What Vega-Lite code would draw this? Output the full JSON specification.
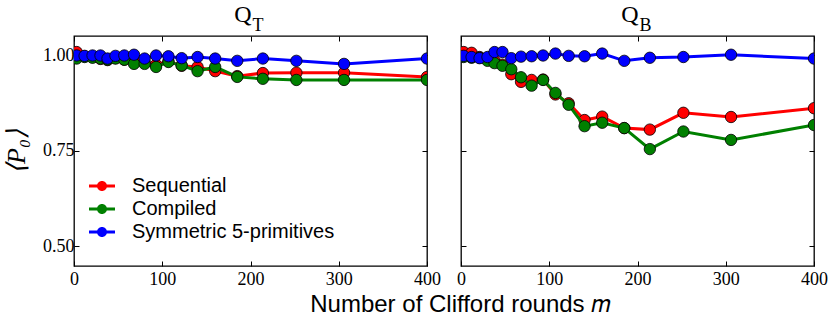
{
  "$schema": "https://vega.github.io/schema/vega-lite/v6.json",
  "padding": {"left": 2, "top": 2, "right": 4, "bottom": 4},
  "background": "white",
  "bounds": "flush",
  "title": {"text": "Number of Clifford rounds 𝑚", "orient": "bottom", "anchor": "middle", "font": "Liberation Sans", "fontSize": 24, "fontWeight": "normal", "color": "black", "dx": 45, "offset": 4},
  "spacing": 34,
  "resolve": {"legend": {"color": "independent"}, "scale": {"color": "independent"}},
  "config": {
    "view": {"stroke": "black", "strokeWidth": 1.3},
    "axis": {"grid": false, "domain": false, "tickColor": "black", "tickSize": -5, "tickWidth": 1, "labelFont": "Liberation Serif", "labelFontSize": 18, "labelFontWeight": "normal", "labelColor": "black", "labelFlush": false, "labelOverlap": false, "minExtent": 0},
    "legend": {"labelFont": "Liberation Sans", "labelFontSize": 20, "labelColor": "black", "labelLimit": 0}
  },
  "datasets": {
    "pts": [
      {"panel":"QT","series":"Sequential","m":3,"p":1.008},{"panel":"QT","series":"Sequential","m":12,"p":0.997},{"panel":"QT","series":"Sequential","m":21,"p":0.995},{"panel":"QT","series":"Sequential","m":30,"p":0.990},{"panel":"QT","series":"Sequential","m":38,"p":0.987},{"panel":"QT","series":"Sequential","m":47,"p":0.992},{"panel":"QT","series":"Sequential","m":57,"p":0.988},{"panel":"QT","series":"Sequential","m":68,"p":0.985},{"panel":"QT","series":"Sequential","m":80,"p":0.982},{"panel":"QT","series":"Sequential","m":93,"p":0.975},{"panel":"QT","series":"Sequential","m":107,"p":0.984},{"panel":"QT","series":"Sequential","m":122,"p":0.972},{"panel":"QT","series":"Sequential","m":140,"p":0.969},{"panel":"QT","series":"Sequential","m":160,"p":0.958},{"panel":"QT","series":"Sequential","m":185,"p":0.945},{"panel":"QT","series":"Sequential","m":214,"p":0.953},{"panel":"QT","series":"Sequential","m":252,"p":0.954},{"panel":"QT","series":"Sequential","m":306,"p":0.954},{"panel":"QT","series":"Sequential","m":400,"p":0.943},
      {"panel":"QT","series":"Compiled","m":3,"p":0.991},{"panel":"QT","series":"Compiled","m":12,"p":0.995},{"panel":"QT","series":"Compiled","m":21,"p":0.993},{"panel":"QT","series":"Compiled","m":30,"p":0.991},{"panel":"QT","series":"Compiled","m":38,"p":0.988},{"panel":"QT","series":"Compiled","m":47,"p":0.991},{"panel":"QT","series":"Compiled","m":57,"p":0.988},{"panel":"QT","series":"Compiled","m":68,"p":0.977},{"panel":"QT","series":"Compiled","m":80,"p":0.977},{"panel":"QT","series":"Compiled","m":93,"p":0.969},{"panel":"QT","series":"Compiled","m":107,"p":0.982},{"panel":"QT","series":"Compiled","m":122,"p":0.973},{"panel":"QT","series":"Compiled","m":140,"p":0.958},{"panel":"QT","series":"Compiled","m":160,"p":0.969},{"panel":"QT","series":"Compiled","m":185,"p":0.943},{"panel":"QT","series":"Compiled","m":214,"p":0.938},{"panel":"QT","series":"Compiled","m":252,"p":0.935},{"panel":"QT","series":"Compiled","m":306,"p":0.935},{"panel":"QT","series":"Compiled","m":400,"p":0.935},
      {"panel":"QT","series":"Symmetric 5-primitives","m":3,"p":0.999},{"panel":"QT","series":"Symmetric 5-primitives","m":12,"p":0.998},{"panel":"QT","series":"Symmetric 5-primitives","m":21,"p":0.999},{"panel":"QT","series":"Symmetric 5-primitives","m":30,"p":0.999},{"panel":"QT","series":"Symmetric 5-primitives","m":38,"p":0.991},{"panel":"QT","series":"Symmetric 5-primitives","m":47,"p":0.998},{"panel":"QT","series":"Symmetric 5-primitives","m":57,"p":0.999},{"panel":"QT","series":"Symmetric 5-primitives","m":68,"p":1.001},{"panel":"QT","series":"Symmetric 5-primitives","m":80,"p":0.991},{"panel":"QT","series":"Symmetric 5-primitives","m":93,"p":0.999},{"panel":"QT","series":"Symmetric 5-primitives","m":107,"p":0.997},{"panel":"QT","series":"Symmetric 5-primitives","m":122,"p":0.992},{"panel":"QT","series":"Symmetric 5-primitives","m":140,"p":0.995},{"panel":"QT","series":"Symmetric 5-primitives","m":160,"p":0.991},{"panel":"QT","series":"Symmetric 5-primitives","m":185,"p":0.985},{"panel":"QT","series":"Symmetric 5-primitives","m":214,"p":0.991},{"panel":"QT","series":"Symmetric 5-primitives","m":252,"p":0.985},{"panel":"QT","series":"Symmetric 5-primitives","m":306,"p":0.977},{"panel":"QT","series":"Symmetric 5-primitives","m":400,"p":0.991},
      {"panel":"QB","series":"Sequential","m":3,"p":1.008},{"panel":"QB","series":"Sequential","m":12,"p":1.006},{"panel":"QB","series":"Sequential","m":21,"p":0.995},{"panel":"QB","series":"Sequential","m":30,"p":0.990},{"panel":"QB","series":"Sequential","m":38,"p":0.985},{"panel":"QB","series":"Sequential","m":47,"p":0.975},{"panel":"QB","series":"Sequential","m":57,"p":0.950},{"panel":"QB","series":"Sequential","m":68,"p":0.930},{"panel":"QB","series":"Sequential","m":80,"p":0.935},{"panel":"QB","series":"Sequential","m":93,"p":0.936},{"panel":"QB","series":"Sequential","m":107,"p":0.897},{"panel":"QB","series":"Sequential","m":122,"p":0.874},{"panel":"QB","series":"Sequential","m":140,"p":0.830},{"panel":"QB","series":"Sequential","m":160,"p":0.839},{"panel":"QB","series":"Sequential","m":185,"p":0.809},{"panel":"QB","series":"Sequential","m":214,"p":0.805},{"panel":"QB","series":"Sequential","m":252,"p":0.849},{"panel":"QB","series":"Sequential","m":306,"p":0.838},{"panel":"QB","series":"Sequential","m":400,"p":0.861},
      {"panel":"QB","series":"Compiled","m":3,"p":0.995},{"panel":"QB","series":"Compiled","m":12,"p":0.993},{"panel":"QB","series":"Compiled","m":21,"p":0.993},{"panel":"QB","series":"Compiled","m":30,"p":0.985},{"panel":"QB","series":"Compiled","m":38,"p":0.979},{"panel":"QB","series":"Compiled","m":47,"p":0.972},{"panel":"QB","series":"Compiled","m":57,"p":0.963},{"panel":"QB","series":"Compiled","m":68,"p":0.942},{"panel":"QB","series":"Compiled","m":80,"p":0.920},{"panel":"QB","series":"Compiled","m":93,"p":0.935},{"panel":"QB","series":"Compiled","m":107,"p":0.901},{"panel":"QB","series":"Compiled","m":122,"p":0.870},{"panel":"QB","series":"Compiled","m":140,"p":0.814},{"panel":"QB","series":"Compiled","m":160,"p":0.823},{"panel":"QB","series":"Compiled","m":185,"p":0.809},{"panel":"QB","series":"Compiled","m":214,"p":0.754},{"panel":"QB","series":"Compiled","m":252,"p":0.800},{"panel":"QB","series":"Compiled","m":306,"p":0.778},{"panel":"QB","series":"Compiled","m":400,"p":0.817},
      {"panel":"QB","series":"Symmetric 5-primitives","m":3,"p":0.998},{"panel":"QB","series":"Symmetric 5-primitives","m":12,"p":0.995},{"panel":"QB","series":"Symmetric 5-primitives","m":21,"p":0.992},{"panel":"QB","series":"Symmetric 5-primitives","m":30,"p":0.995},{"panel":"QB","series":"Symmetric 5-primitives","m":38,"p":1.008},{"panel":"QB","series":"Symmetric 5-primitives","m":47,"p":1.008},{"panel":"QB","series":"Symmetric 5-primitives","m":57,"p":0.992},{"panel":"QB","series":"Symmetric 5-primitives","m":68,"p":0.996},{"panel":"QB","series":"Symmetric 5-primitives","m":80,"p":0.997},{"panel":"QB","series":"Symmetric 5-primitives","m":93,"p":0.999},{"panel":"QB","series":"Symmetric 5-primitives","m":107,"p":1.004},{"panel":"QB","series":"Symmetric 5-primitives","m":122,"p":0.998},{"panel":"QB","series":"Symmetric 5-primitives","m":140,"p":0.997},{"panel":"QB","series":"Symmetric 5-primitives","m":160,"p":1.004},{"panel":"QB","series":"Symmetric 5-primitives","m":185,"p":0.985},{"panel":"QB","series":"Symmetric 5-primitives","m":214,"p":0.993},{"panel":"QB","series":"Symmetric 5-primitives","m":252,"p":0.995},{"panel":"QB","series":"Symmetric 5-primitives","m":306,"p":1.001},{"panel":"QB","series":"Symmetric 5-primitives","m":400,"p":0.991}
    ]
  },
  "hconcat": [
    {
      "width": 353, "height": 230,
      "data": {"name": "pts"},
      "transform": [{"filter": "datum.panel === 'QT'"}],
      "resolve": {"axis": {"x": "independent", "y": "independent"}},
      "layer": [
        {"transform": [{"filter": "datum.series === 'Sequential'"}],
         "mark": {"type": "line", "strokeWidth": 3, "clip": true},
         "encoding": {
           "x": {"field": "m", "type": "quantitative", "scale": {"domain": [0, 400]}, "axis": {"orient": "bottom", "values": [0, 100, 200, 300, 400], "title": null, "labelPadding": 9}},
           "y": {"field": "p", "type": "quantitative", "scale": {"domain": [0.448, 1.05]}, "axis": {"orient": "left", "values": [0.5, 0.75, 1.0], "format": ".2f", "title": "⟨P₀⟩", "titleFont": "Liberation Serif", "titleFontStyle": "italic", "titleFontSize": 26, "titleFontWeight": "normal", "titleColor": "black", "titlePadding": 13.5, "labelPadding": 5}},
           "color": {"field": "series", "type": "nominal", "scale": {"domain": ["Sequential", "Compiled", "Symmetric 5-primitives"], "range": ["#ff0000", "#008000", "#0000ff"]},
             "legend": {"title": null, "orient": "none", "legendX": 18, "legendY": 140, "symbolType": "M-1.3,-0.14H1.3V0.14H-1.3Z M0.5,0A0.5,0.5,0,1,1,-0.5,0A0.5,0.5,0,1,1,0.5,0Z", "symbolSize": 400, "symbolStrokeWidth": 0, "symbolOpacity": 1, "labelOffset": 20, "rowPadding": 3, "padding": 0}}
         }},
        {"transform": [{"filter": "datum.series === 'Sequential'"}],
         "mark": {"type": "point", "filled": true, "size": 130, "stroke": "black", "strokeWidth": 0.8, "opacity": 1, "clip": true},
         "encoding": {
           "x": {"field": "m", "type": "quantitative", "scale": {"domain": [0, 400]}, "axis": {"orient": "top", "values": [0, 100, 200, 300, 400], "title": null, "labels": false, "labelPadding": 0, "maxExtent": 0}},
           "y": {"field": "p", "type": "quantitative", "scale": {"domain": [0.448, 1.05]}, "axis": {"orient": "right", "values": [0.5, 0.75, 1.0], "title": null, "labels": false, "labelPadding": 0, "maxExtent": 0}},
           "color": {"field": "series", "type": "nominal", "scale": {"domain": ["Sequential", "Compiled", "Symmetric 5-primitives"], "range": ["#ff0000", "#008000", "#0000ff"]}}
         }},
        {"transform": [{"filter": "datum.series === 'Compiled'"}],
         "mark": {"type": "line", "strokeWidth": 3, "clip": true},
         "encoding": {
           "x": {"field": "m", "type": "quantitative", "scale": {"domain": [0, 400]}, "axis": null},
           "y": {"field": "p", "type": "quantitative", "scale": {"domain": [0.448, 1.05]}, "axis": null},
           "color": {"field": "series", "type": "nominal", "scale": {"domain": ["Sequential", "Compiled", "Symmetric 5-primitives"], "range": ["#ff0000", "#008000", "#0000ff"]}}
         }},
        {"transform": [{"filter": "datum.series === 'Compiled'"}],
         "mark": {"type": "point", "filled": true, "size": 130, "stroke": "black", "strokeWidth": 0.8, "opacity": 1, "clip": true},
         "encoding": {
           "x": {"field": "m", "type": "quantitative", "scale": {"domain": [0, 400]}, "axis": null},
           "y": {"field": "p", "type": "quantitative", "scale": {"domain": [0.448, 1.05]}, "axis": null},
           "color": {"field": "series", "type": "nominal", "scale": {"domain": ["Sequential", "Compiled", "Symmetric 5-primitives"], "range": ["#ff0000", "#008000", "#0000ff"]}}
         }},
        {"transform": [{"filter": "datum.series === 'Symmetric 5-primitives'"}],
         "mark": {"type": "line", "strokeWidth": 3, "clip": true},
         "encoding": {
           "x": {"field": "m", "type": "quantitative", "scale": {"domain": [0, 400]}, "axis": null},
           "y": {"field": "p", "type": "quantitative", "scale": {"domain": [0.448, 1.05]}, "axis": null},
           "color": {"field": "series", "type": "nominal", "scale": {"domain": ["Sequential", "Compiled", "Symmetric 5-primitives"], "range": ["#ff0000", "#008000", "#0000ff"]}}
         }},
        {"transform": [{"filter": "datum.series === 'Symmetric 5-primitives'"}],
         "mark": {"type": "point", "filled": true, "size": 130, "stroke": "black", "strokeWidth": 0.8, "opacity": 1, "clip": true},
         "encoding": {
           "x": {"field": "m", "type": "quantitative", "scale": {"domain": [0, 400]}, "axis": null},
           "y": {"field": "p", "type": "quantitative", "scale": {"domain": [0.448, 1.05]}, "axis": null},
           "color": {"field": "series", "type": "nominal", "scale": {"domain": ["Sequential", "Compiled", "Symmetric 5-primitives"], "range": ["#ff0000", "#008000", "#0000ff"]}}
         }},
        {"data": {"values": [{"main": "Q", "sub": "T"}]},
         "mark": {"type": "text", "font": "Liberation Serif", "fontSize": 24, "fontWeight": "normal", "align": "right", "baseline": "alphabetic", "dx": 1, "color": "black"},
         "encoding": {
           "x": {"datum": 200, "type": "quantitative", "scale": {"domain": [0, 400]}, "axis": null},
           "y": {"datum": 1.087, "type": "quantitative", "scale": {"domain": [0.448, 1.05]}, "axis": null},
           "text": {"field": "main"}
         }},
        {"data": {"values": [{"main": "Q", "sub": "T"}]},
         "mark": {"type": "text", "font": "Liberation Serif", "fontSize": 18, "fontWeight": "normal", "align": "left", "baseline": "alphabetic", "dx": 2, "color": "black"},
         "encoding": {
           "x": {"datum": 200, "type": "quantitative", "scale": {"domain": [0, 400]}, "axis": null},
           "y": {"datum": 1.063, "type": "quantitative", "scale": {"domain": [0.448, 1.05]}, "axis": null},
           "text": {"field": "sub"}
         }}
      ]
    },
    {
      "width": 353, "height": 230,
      "data": {"name": "pts"},
      "transform": [{"filter": "datum.panel === 'QB'"}],
      "resolve": {"axis": {"x": "independent", "y": "independent"}},
      "layer": [
        {"transform": [{"filter": "datum.series === 'Sequential'"}],
         "mark": {"type": "line", "strokeWidth": 3, "clip": true},
         "encoding": {
           "x": {"field": "m", "type": "quantitative", "scale": {"domain": [0, 400]}, "axis": {"orient": "bottom", "values": [0, 100, 200, 300, 400], "title": null, "labelPadding": 9}},
           "y": {"field": "p", "type": "quantitative", "scale": {"domain": [0.448, 1.05]}, "axis": {"orient": "left", "values": [0.5, 0.75, 1.0], "title": null, "labels": false, "labelPadding": 0, "maxExtent": 0}},
           "color": {"field": "series", "type": "nominal", "scale": {"domain": ["Sequential", "Compiled", "Symmetric 5-primitives"], "range": ["#ff0000", "#008000", "#0000ff"]}, "legend": null}
         }},
        {"transform": [{"filter": "datum.series === 'Sequential'"}],
         "mark": {"type": "point", "filled": true, "size": 130, "stroke": "black", "strokeWidth": 0.8, "opacity": 1, "clip": true},
         "encoding": {
           "x": {"field": "m", "type": "quantitative", "scale": {"domain": [0, 400]}, "axis": {"orient": "top", "values": [0, 100, 200, 300, 400], "title": null, "labels": false, "labelPadding": 0, "maxExtent": 0}},
           "y": {"field": "p", "type": "quantitative", "scale": {"domain": [0.448, 1.05]}, "axis": {"orient": "right", "values": [0.5, 0.75, 1.0], "title": null, "labels": false, "labelPadding": 0, "maxExtent": 0}},
           "color": {"field": "series", "type": "nominal", "scale": {"domain": ["Sequential", "Compiled", "Symmetric 5-primitives"], "range": ["#ff0000", "#008000", "#0000ff"]}, "legend": null}
         }},
        {"transform": [{"filter": "datum.series === 'Compiled'"}],
         "mark": {"type": "line", "strokeWidth": 3, "clip": true},
         "encoding": {
           "x": {"field": "m", "type": "quantitative", "scale": {"domain": [0, 400]}, "axis": null},
           "y": {"field": "p", "type": "quantitative", "scale": {"domain": [0.448, 1.05]}, "axis": null},
           "color": {"field": "series", "type": "nominal", "scale": {"domain": ["Sequential", "Compiled", "Symmetric 5-primitives"], "range": ["#ff0000", "#008000", "#0000ff"]}, "legend": null}
         }},
        {"transform": [{"filter": "datum.series === 'Compiled'"}],
         "mark": {"type": "point", "filled": true, "size": 130, "stroke": "black", "strokeWidth": 0.8, "opacity": 1, "clip": true},
         "encoding": {
           "x": {"field": "m", "type": "quantitative", "scale": {"domain": [0, 400]}, "axis": null},
           "y": {"field": "p", "type": "quantitative", "scale": {"domain": [0.448, 1.05]}, "axis": null},
           "color": {"field": "series", "type": "nominal", "scale": {"domain": ["Sequential", "Compiled", "Symmetric 5-primitives"], "range": ["#ff0000", "#008000", "#0000ff"]}, "legend": null}
         }},
        {"transform": [{"filter": "datum.series === 'Symmetric 5-primitives'"}],
         "mark": {"type": "line", "strokeWidth": 3, "clip": true},
         "encoding": {
           "x": {"field": "m", "type": "quantitative", "scale": {"domain": [0, 400]}, "axis": null},
           "y": {"field": "p", "type": "quantitative", "scale": {"domain": [0.448, 1.05]}, "axis": null},
           "color": {"field": "series", "type": "nominal", "scale": {"domain": ["Sequential", "Compiled", "Symmetric 5-primitives"], "range": ["#ff0000", "#008000", "#0000ff"]}, "legend": null}
         }},
        {"transform": [{"filter": "datum.series === 'Symmetric 5-primitives'"}],
         "mark": {"type": "point", "filled": true, "size": 130, "stroke": "black", "strokeWidth": 0.8, "opacity": 1, "clip": true},
         "encoding": {
           "x": {"field": "m", "type": "quantitative", "scale": {"domain": [0, 400]}, "axis": null},
           "y": {"field": "p", "type": "quantitative", "scale": {"domain": [0.448, 1.05]}, "axis": null},
           "color": {"field": "series", "type": "nominal", "scale": {"domain": ["Sequential", "Compiled", "Symmetric 5-primitives"], "range": ["#ff0000", "#008000", "#0000ff"]}, "legend": null}
         }},
        {"data": {"values": [{"main": "Q", "sub": "B"}]},
         "mark": {"type": "text", "font": "Liberation Serif", "fontSize": 24, "fontWeight": "normal", "align": "right", "baseline": "alphabetic", "dx": 1, "color": "black"},
         "encoding": {
           "x": {"datum": 200, "type": "quantitative", "scale": {"domain": [0, 400]}, "axis": null},
           "y": {"datum": 1.087, "type": "quantitative", "scale": {"domain": [0.448, 1.05]}, "axis": null},
           "text": {"field": "main"}
         }},
        {"data": {"values": [{"main": "Q", "sub": "B"}]},
         "mark": {"type": "text", "font": "Liberation Serif", "fontSize": 18, "fontWeight": "normal", "align": "left", "baseline": "alphabetic", "dx": 2, "color": "black"},
         "encoding": {
           "x": {"datum": 200, "type": "quantitative", "scale": {"domain": [0, 400]}, "axis": null},
           "y": {"datum": 1.063, "type": "quantitative", "scale": {"domain": [0.448, 1.05]}, "axis": null},
           "text": {"field": "sub"}
         }}
      ]
    }
  ]
}
